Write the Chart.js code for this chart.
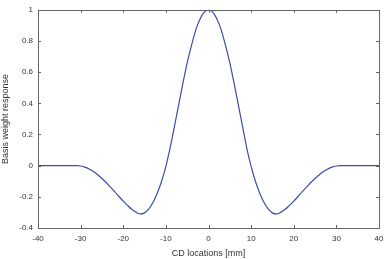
<!DOCTYPE html>
<html><head><meta charset="UTF-8">
<title>Basis weight response</title>
<script src="https://cdn.jsdelivr.net/npm/chart.js"></script>
<style>
  html,body{margin:0;padding:0;background:#fff}
  #wrap{width:391px;height:259px;position:relative}
</style>
</head><body>
<div id="wrap"><canvas id="chart"></canvas></div>
<script>
// CD location in mm
const cdLoc = [-40,-39,-38,-37,-36,-35,-34,-33,-32,-31,-30,-29,-28,-27,-26,-25,-24,-23,-22,-21,-20,-19,-18,-17,-16,-15,-14,-13,-12,-11,-10,-9,-8,-7,-6,-5,-4,-3,-2,-1,0,
  1,2,3,4,5,6,7,8,9,10,11,12,13,14,15,16,17,18,19,20,21,22,23,24,25,26,27,28,29,30,31,32,33,34,35,36,37,38,39,40];
// basis weight response
const response = [0,0,0,0,0,0,0,0,0,0,-0.002,-0.009,-0.021,-0.038,-0.058,-0.082,-0.108,-0.138,-0.166,-0.198,-0.228,-0.255,-0.28,-0.298,-0.31,-0.303,-0.278,-0.235,-0.175,-0.1,-0.005,0.115,0.25,0.39,0.53,0.66,0.77,0.87,0.94,0.985,1.0,
  0.985,0.94,0.87,0.77,0.66,0.53,0.39,0.25,0.11,-0.005,-0.1,-0.175,-0.235,-0.278,-0.303,-0.31,-0.298,-0.28,-0.255,-0.228,-0.198,-0.166,-0.138,-0.108,-0.082,-0.058,-0.038,-0.021,-0.009,-0.002,0,0,0,0,0,0,0,0,0,0];
const xTicks = [-40,-30,-20,-10,0,10,20,30,40];
const yTicks = [-0.4,-0.2,0,0.2,0.4,0.6,0.8,1];

const axisCol = "#666";
const txtCol = "#333";
const fam = "'Liberation Sans', Arial, sans-serif";

// matlab style box with inward ticks on all four sides
const boxTicks = {
  id: "boxTicks",
  afterDraw(c) {
    const ctx = c.ctx, a = c.chartArea, sx = c.scales.x, sy = c.scales.y;
    ctx.save();
    ctx.strokeStyle = axisCol;
    ctx.lineWidth = 1;
    ctx.beginPath();
    ctx.rect(Math.round(a.left) + 0.5, Math.round(a.top) + 0.5, Math.round(a.right - a.left), Math.round(a.bottom - a.top));
    xTicks.forEach(v => {
      const px = Math.round(sx.getPixelForValue(v)) + 0.5;
      ctx.moveTo(px, a.bottom); ctx.lineTo(px, a.bottom - 3);
      ctx.moveTo(px, a.top); ctx.lineTo(px, a.top + 3);
    });
    yTicks.forEach(v => {
      const py = Math.round(sy.getPixelForValue(v)) + 0.5;
      ctx.moveTo(a.left, py); ctx.lineTo(a.left + 3, py);
      ctx.moveTo(a.right, py); ctx.lineTo(a.right - 3, py);
    });
    ctx.stroke();
    ctx.restore();
  }
};

new Chart(document.getElementById("chart"), {
  type: "line",
  data: {
    datasets: [{
      data: cdLoc.map((x, i) => ({x: x, y: response[i]})),
      borderColor: "#3b4ea3",
      borderWidth: 1.2,
      pointRadius: 0,
      cubicInterpolationMode: "monotone",
      fill: false
    }]
  },
  options: {
    responsive: true,
    maintainAspectRatio: false,
    animation: false,
    layout: {padding: {top: 8, right: 12, left: 0, bottom: 0}},
    plugins: {legend: {display: false}, tooltip: {enabled: false}},
    scales: {
      x: {
        type: "linear", min: -40, max: 40,
        afterBuildTicks: s => { s.ticks = xTicks.map(v => ({value: v})); },
        afterFit: s => { s.height = 31; },
        grid: {display: false, drawTicks: false},
        border: {display: false},
        ticks: {color: txtCol, font: {family: fam, size: 8}, padding: 6, maxRotation: 0},
        title: {display: true, text: "CD locations [mm]", color: txtCol, font: {family: fam, size: 9}, padding: {top: 1, bottom: 0}}
      },
      y: {
        type: "linear", min: -0.4, max: 1,
        afterBuildTicks: s => { s.ticks = yTicks.map(v => ({value: v})); },
        afterFit: s => { s.width = 38; },
        grid: {display: false, drawTicks: false},
        border: {display: false},
        ticks: {color: txtCol, font: {family: fam, size: 8}, padding: 5,
          callback: v => String(Number(v.toFixed(1)))},
        title: {display: true, text: "Basis weight response", color: txtCol, font: {family: fam, size: 9}, padding: {top: 0, bottom: 2}}
      }
    }
  },
  plugins: [boxTicks]
});
</script>
</body></html>
